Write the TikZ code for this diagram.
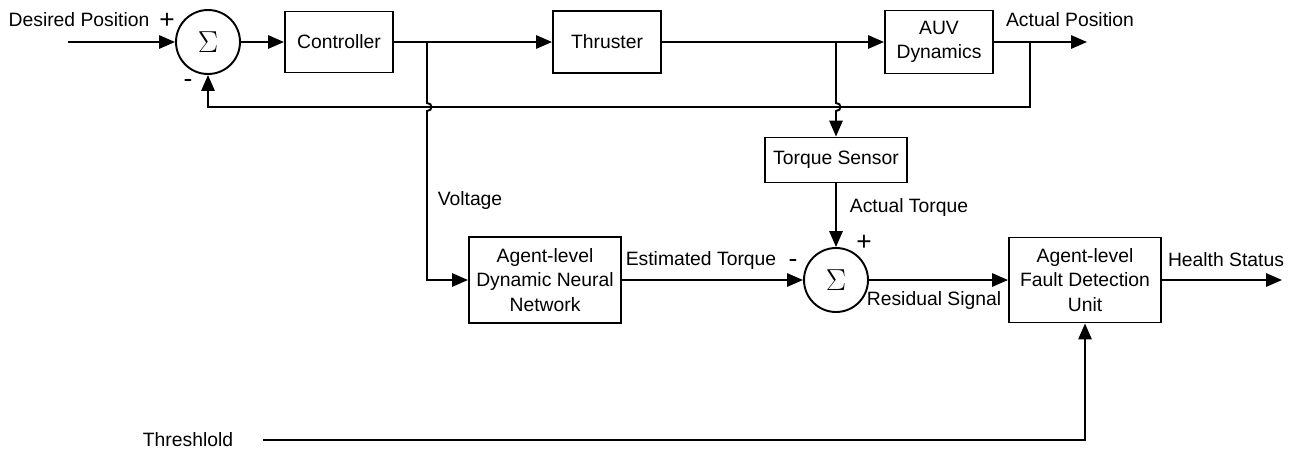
\documentclass[tikz,border=0pt]{standalone}
\usepackage{fontspec}
\setmainfont{Liberation Sans}
\usetikzlibrary{arrows.meta}
\newcommand{\pxu}{0.02cm}
\begin{document}
\begin{tikzpicture}[x=0.02cm,y=-0.02cm,
  every node/.style={font=\fontsize{11}{14}\selectfont},
  blk/.style={draw,line width=1.1pt,inner sep=0pt,align=center},
  sumc/.style={draw,circle,line width=1.1pt,inner sep=0pt,minimum size=64*\pxu,font=\fontsize{19}{19}\selectfont},
  lbl/.style={inner sep=0pt},
  sgn/.style={inner sep=0pt,font=\fontsize{15}{15}\selectfont},
  wire/.style={line width=1.1pt},
  arr/.style={wire,-{Triangle[length=9pt,width=7.5pt]}}]
\useasboundingbox (0,0) rectangle (1307,450);
% blocks
\node[sumc] (s1) at (208,42) {$\Sigma$};
\node[blk,minimum width=108*\pxu,minimum height=61*\pxu] (ctrl) at (339,42) {Controller};
\node[blk,minimum width=108*\pxu,minimum height=62*\pxu] (thr) at (607,42) {Thruster};
\node[blk,minimum width=108*\pxu,minimum height=63*\pxu] (auv) at (939,42) {AUV\\Dynamics};
\node[blk,minimum width=142*\pxu,minimum height=45*\pxu] (ts) at (836,160) {Torque Sensor};
\node[sumc] (s2) at (836,280) {$\Sigma$};
\node[blk,minimum width=152*\pxu,minimum height=86*\pxu] (dnn) at (545,280) {Agent-level\\Dynamic Neural\\Network};
\node[blk,minimum width=152*\pxu,minimum height=85*\pxu] (fdu) at (1085,280) {Agent-level\\Fault Detection\\Unit};
% labels
\node[lbl] (tdes) at (79,20) {Desired Position};
\node[sgn] (tp1) at (167,21) {+};
\node[sgn] (tm1) at (188,83) {-};
\node[lbl] (tact) at (1070,20) {Actual Position};
\node[lbl] (tvol) at (470,200) {Voltage};
\node[lbl] (tatq) at (909,207) {Actual Torque};
\node[sgn] (tp2) at (864,243) {+};
\node[sgn] (tm2) at (793,263) {-};
\node[lbl] (test) at (701,260) {Estimated Torque};
\node[lbl] (tres) at (934,300) {Residual Signal};
\node[lbl] (thea) at (1226,260) {Health Status};
\node[lbl] (tthr) at (188,440) {Threshlold};
% coordinates
\coordinate (in) at (68,42);
\coordinate (bV) at (427,42);
\coordinate (bT) at (836,42);
\coordinate (bF) at (1030,42);
\coordinate (outP) at (1087,42);
\coordinate (outH) at (1282,280);
\coordinate (thS) at (263,440);
% connectors
\draw[arr] (in) -- (s1.west);
\draw[arr] (s1.east) -- (ctrl.west);
\draw[arr] (ctrl.east) -- (thr.west);
\draw[arr] (thr.east) -- (auv.west);
\draw[arr] (auv.east) -- (outP);
\draw[arr] (bF) -- (1030,107) -| (s1.south);
\draw[arr] (bV) -- (427,103) .. controls (433,103) and (433,111) .. (427,111) |- (dnn.west);
\draw[arr] (bT) -- (836,103) .. controls (842,103) and (842,111) .. (836,111) -- (ts.north);
\draw[arr] (ts.south) -- (s2.north);
\draw[arr] (dnn.east) -- (s2.west);
\draw[arr] (s2.east) -- (fdu.west);
\draw[arr] (fdu.east) -- (outH);
\draw[arr] (thS) -| (fdu.south);
\end{tikzpicture}
\end{document}
